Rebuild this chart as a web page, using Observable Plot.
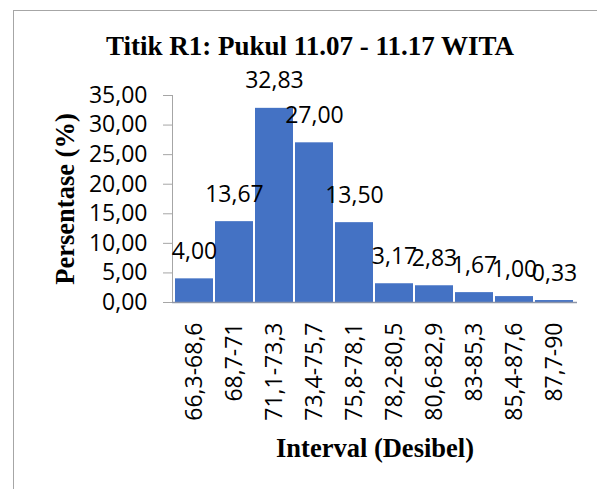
<!DOCTYPE html>
<html>
<head>
<meta charset="utf-8">
<script src="https://cdn.jsdelivr.net/npm/d3@7"></script>
<script src="https://cdn.jsdelivr.net/npm/@observablehq/plot@0.6"></script>
<style>
  html, body { margin: 0; padding: 0; background: #fff; overflow: hidden; }
  #wrap { position: relative; width: 597px; height: 489px; overflow: hidden; }
  #border { position: absolute; left: 13px; top: 10px; width: 640px; height: 540px; border: 1px solid #a6a6a6; box-sizing: border-box; }
  #title { position: absolute; left: 0; top: 33px; width: 620px; text-align: center;
           font-family: "Liberation Serif", "Times New Roman", serif; font-weight: bold; font-size: 27px; line-height: 27px; color: #000; white-space: nowrap; }
  #chart { position: absolute; left: 0; top: 0; }
</style>
</head>
<body>
<div id="wrap">
  <div id="border"></div>
  <div id="title">Titik R1: Pukul 11.07 - 11.17 WITA</div>
  <div id="chart"></div>
</div>
<script>
const categories = ["66,3-68,6", "68,7-71", "71,1-73,3", "73,4-75,7", "75,8-78,1", "78,2-80,5", "80,6-82,9", "83-85,3", "85,4-87,6", "87,7-90"];
const values = [4.00, 13.67, 32.83, 27.00, 13.50, 3.17, 2.83, 1.67, 1.00, 0.33];
const yTicks = [0, 5, 10, 15, 20, 25, 30, 35];
const yLabel = "Persentase (%)";
const xLabel = "Interval (Desibel)";

const data = categories.map((c, i) => ({interval: c, pct: values[i]}));
const fmt = d => d.toFixed(2).replace(".", ",");
const sans = "'Open Sans', 'DejaVu Sans', sans-serif";
const serif = "'Liberation Serif', 'Times New Roman', serif";
const fs = 23;

const chart = Plot.plot({
  width: 597,
  height: 489,
  marginTop: 95,
  marginBottom: 187,
  marginLeft: 172,
  marginRight: 20,
  style: {fontFamily: sans, fontSize: fs + "px", color: "#000", background: "transparent", overflow: "visible"},
  x: {domain: categories, paddingInner: 0.045, paddingOuter: 0.01, label: null},
  y: {domain: [0, 35], label: null},
  marks: [
    Plot.barY(data, {x: "interval", y: "pct", fill: "#4472C4"}),
    Plot.frame({anchor: "left", stroke: "#a6a6a6"}),
    Plot.ruleY([0], {stroke: "#8e96a8", strokeWidth: 1.5}),
    Plot.axisY({ticks: yTicks, tickSize: 9, tickPadding: 16, tickFormat: fmt, stroke: "#a6a6a6", fill: "#000", fontSize: fs, fontFamily: sans, label: null}),
    Plot.axisX({tickSize: 0, tickPadding: 20, tickRotate: -90, fill: "#000", fontSize: fs, fontFamily: sans, label: null}),
    Plot.text(data, {x: "interval", y: "pct", text: d => fmt(d.pct), dy: -20, lineAnchor: "bottom", fontSize: fs, fontFamily: sans, fill: "#000"}),
    Plot.text([yLabel], {frameAnchor: "left", textAnchor: "middle", dx: -107, rotate: -90, fontSize: 26.5, fontWeight: "bold", fontFamily: serif, fill: "#000"}),
    Plot.text([xLabel], {frameAnchor: "bottom", textAnchor: "middle", dy: 154, lineAnchor: "bottom", fontSize: 26.5, fontWeight: "bold", fontFamily: serif, fill: "#000"})
  ]
});
document.getElementById("chart").appendChild(chart);
</script>
</body>
</html>
